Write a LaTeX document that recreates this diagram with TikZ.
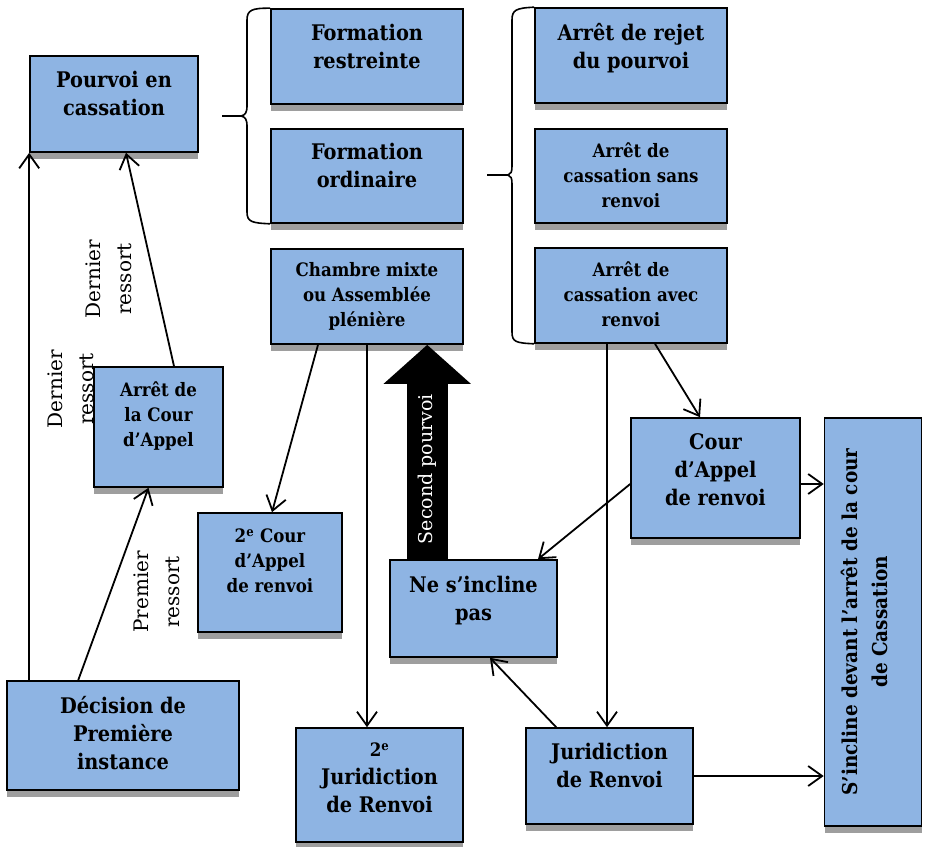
\documentclass[tikz,border=0pt]{standalone}
\usepackage{fontspec}
\setmainfont{DejaVu Serif}
\newfontfamily\condensed{DejaVu Serif Condensed}
\usepackage{tikz}
\usetikzlibrary{calc, arrows.meta, positioning, shadows}

\definecolor{boxblue}{RGB}{142,180,227}
\definecolor{shadowgray}{RGB}{158,158,158}

% text block of a box, lifted by #1 without changing its size
\newcommand{\boxtext}[2]{\raisebox{#1}[\height][\depth]{\begin{tabular}{@{}c@{}}#2\end{tabular}}}
\newcommand{\smallfont}{\fontsize{18.5}{25}\selectfont}

\begin{document}
\begin{tikzpicture}[
    x=1pt, y=-1pt,
    court/.style={rectangle, draw=black, fill=boxblue, line width=1.6pt, inner sep=2pt, font=\condensed\fontsize{21.5}{28}\selectfont\bfseries,
        drop shadow={shadow xshift=0pt, shadow yshift=-7pt, fill=shadowgray, opacity=1}},
    smalltext/.style={font=\condensed\smallfont\bfseries},
    boxsize/.style 2 args={minimum width=#1, minimum height=#2},
    note/.style={align=center, font=\fontsize{20}{31}\selectfont, inner sep=0pt},
    flow/.style={draw=black, line width=1.8pt, -{Straight Barb[length=14pt, width=20pt, line width=1.8pt]}},
    bigflow/.style={draw=black, line width=41pt, -{Triangle[length=39pt, width=85pt]}},
    bracket/.style={draw=black, line width=1.6pt, line join=round}
]
    \useasboundingbox (0,0) rectangle (926,846);

    % labels first, the boxes lie over them
    \node [note, rotate=90] (dern1) at (109,279) {Dernier\\ressort};
    \node [note, rotate=90] (dern2) at (71,389) {Dernier\\ressort};
    \node [note, rotate=90] (prem) at (157,592) {Premier\\ressort};

    % boxes
    \node [court, boxsize={168}{96}] (pourvoi) at (114,104) {\boxtext{8pt}{Pourvoi en\\cassation}};
    \node [court, boxsize={192}{95}] (restr) at (367,56.5) {\boxtext{8pt}{Formation\\restreinte}};
    \node [court, boxsize={192}{94}] (ordin) at (367,176) {\boxtext{8pt}{Formation\\ordinaire}};
    \node [court, smalltext, boxsize={192}{95}] (chambre) at (367,296.5) {\boxtext{0pt}{Chambre mixte\\ou Assemblée\\plénière}};
    \node [court, boxsize={192}{95}] (rejet) at (631,55.5) {\boxtext{7pt}{Arrêt de rejet\\du pourvoi}};
    \node [court, smalltext, boxsize={192}{94}] (sans) at (631,176) {\boxtext{-1pt}{Arrêt de\\cassation sans\\renvoi}};
    \node [court, smalltext, boxsize={192}{95}] (avec) at (631,295.5) {\boxtext{-1pt}{Arrêt de\\cassation avec\\renvoi}};
    \node [court, smalltext, boxsize={129}{120}] (arretca) at (158.5,427) {\boxtext{11pt}{Arrêt de\\la Cour\\d’Appel}};
    \node [court, smalltext, boxsize={144}{119}] (cour2) at (270,572.5) {\boxtext{10pt}{2\textsuperscript{e} Cour\\d’Appel\\de renvoi}};
    \node [court, boxsize={167}{97}] (neincl) at (473.5,608.5) {\boxtext{8pt}{Ne s’incline\\pas}};
    \node [court, boxsize={232}{109}] (decision) at (123,735.5) {\boxtext{0pt}{Décision de\\Première\\instance}};
    \node [court, boxsize={167}{114}] (jur2) at (379.5,785) {\boxtext{6pt}{{\smallfont 2\textsuperscript{e}}\\Juridiction\\de Renvoi}};
    \node [court, boxsize={167}{96}] (jur) at (609.5,776) {\boxtext{8pt}{Juridiction\\de Renvoi}};
    \node [court, boxsize={169}{120}] (courar) at (715.5,478) {\boxtext{6pt}{Cour\\d’Appel\\de renvoi}};
    \node [court, boxsize={97}{408}] (sincl) at (873,622) {\rotatebox{90}{\fontsize{20.5}{30}\selectfont\boxtext{7pt}{S’incline devant l’arrêt de la cour\\de Cassation}}};

    % braces
    \draw [bracket] (restr.north west) .. controls (252,8) and (247,10) .. (247,20) -- (247,106) .. controls (247,113) and (245,115) .. (241,116) -- (222,116);
    \draw [bracket] (241,116) .. controls (245,117) and (247,119) .. (247,126) -- (247,212) .. controls (247,222) and (252,223) .. (ordin.south west);
    \draw [bracket] (rejet.north west) .. controls (516,8) and (512,10) .. (512,20) -- (512,166) .. controls (512,172) and (511,174) .. (508,175) -- (487,175);
    \draw [bracket] (508,175) .. controls (511,176) and (512,178) .. (512,184) -- (512,332) .. controls (512,342) and (516,343) .. (avec.south west);

    % connectors
    \draw [flow] (decision.north -| pourvoi.west) -- (pourvoi.south west);
    \draw [flow] ($(decision.north west)+(72,0)$) -- ($(arretca.south)+(-10,0)$);
    \draw [flow] ($(arretca.north)+(15.5,0)$) -- ($(pourvoi.south)+(12,0)$);
    \draw [flow] ($(chambre.south)+(-49,0)$) -- ($(cour2.north)+(2,0)$);
    \draw [flow] (chambre.south) -- (chambre.south |- jur2.north);
    \draw [bigflow] ($(neincl.north west)+(38,0)$) -- ($(chambre.south west)+(157,0)$)
        node [pos=0.42, rotate=90, text=white, font=\fontsize{19}{23}\selectfont] (second) {Second pourvoi};
    \draw [flow] ($(avec.south)+(-24,0)$) -- ($(avec.south |- jur.north)+(-24,0)$);
    \draw [flow] ($(avec.south)+(24,0)$) -- ($(courar.north)+(-15.5,0)$);
    \draw [flow] ($(courar.west)+(0,6)$) -- ($(neincl.north)+(64.5,0)$);
    \coordinate (ca) at ($(courar.east)+(0,6)$);
    \draw [flow] (ca) -- (ca -| sincl.west);
    \draw [flow] ($(jur.north west)+(31,0)$) -- ($(neincl.south)+(16.5,0)$);
    \draw [flow] (jur.east) -- (jur.east -| sincl.west);
\end{tikzpicture}
\end{document}
